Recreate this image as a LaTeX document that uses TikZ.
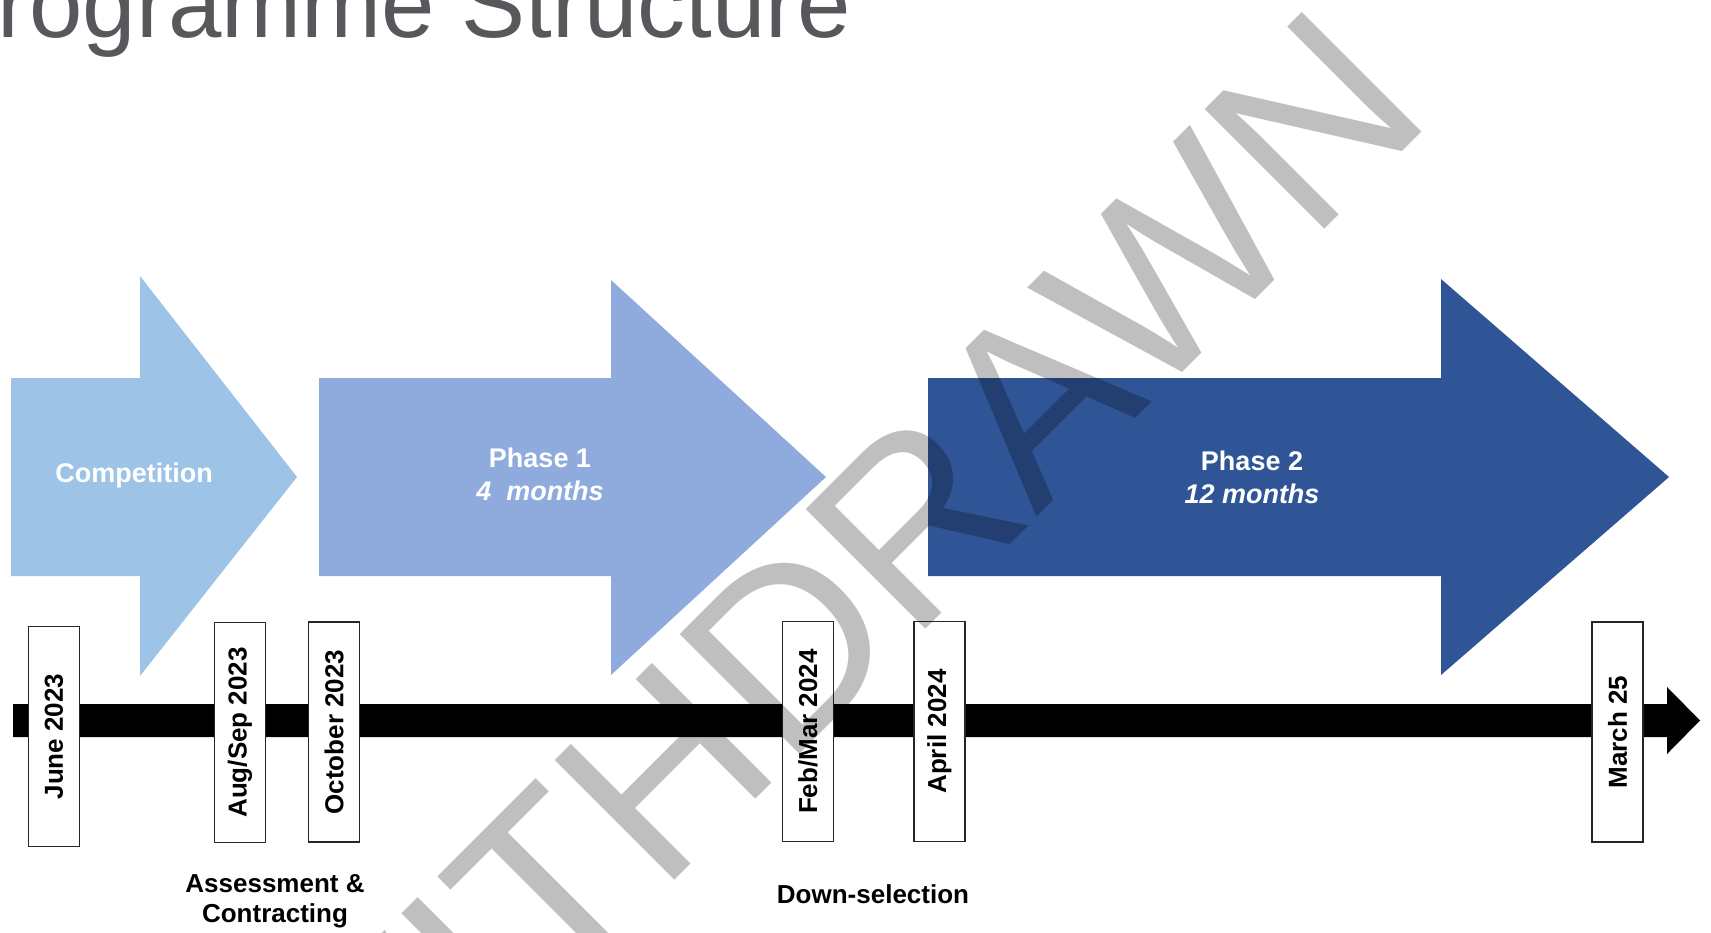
\documentclass[tikz,border=0pt]{standalone}
\usepackage{fontspec}
\setmainfont{Liberation Sans}
\usepackage{xcolor}
\usepackage{tikz}
\usetikzlibrary{positioning}

\definecolor{compblue}{HTML}{9DC3E6}
\definecolor{phaseone}{HTML}{8FAADC}
\definecolor{phasetwo}{HTML}{2F5597}
\definecolor{titlegrey}{RGB}{88,88,92}

\begin{document}
\begin{tikzpicture}[
  x=0.5pt, y=-0.5pt,
  note/.style={font=\fontsize{13}{15}\selectfont\bfseries, align=center,
    inner sep=0pt},
  phase/.style={text=white, font=\fontsize{13.5}{16.5}\selectfont\bfseries,
    align=center, inner sep=0pt},
  datebox/.style={draw=black!85, line width=0.9pt, fill=white, rotate=90,
    minimum width=110pt, minimum height=25.5pt, inner sep=0pt,
    font=\fontsize{13}{14}\selectfont\bfseries},
  tline/.style={fill=black},
]
\useasboundingbox (0,0) rectangle (1711,932);
\clip (0,0) rectangle (1711,932);

% title, cut by the page edge
\node[anchor=base west, inner sep=0pt, text=titlegrey,
  font=\fontsize{48}{50}\selectfont] (title) at (-67,37) {Programme Structure};

% phase arrows
\fill[compblue] (11,378) -- (140,378) -- (140,276) -- (297,477)
  -- (140,676) -- (140,576) -- (11,576) -- cycle;
\fill[phaseone] (319,378) -- (611,378) -- (611,280) -- (826,477)
  -- (611,675) -- (611,576) -- (319,576) -- cycle;
\fill[phasetwo] (928,378) -- (1441,378) -- (1441,279) -- (1669,477)
  -- (1441,675) -- (1441,576) -- (928,576) -- cycle;
\node[phase] (comp) at (134,476) {Competition};
\node[phase] (ph1) at (540,474) {Phase 1\\\textit{4~~months}};
\node[phase] (ph2) at (1252,477) {Phase 2\\\textit{12 months}};

% time line
\fill[tline] (13,704) -- (1667,704) -- (1667,687) -- (1700,720.5)
  -- (1667,754) -- (1667,737) -- (13,737) -- cycle;

% dates
\node[datebox] (jun) at (54,736.5) {June 2023};
\node[datebox] (aug) at (240,732.5) {Aug/Sep 2023};
\node[datebox] (oct) at (334,732) {October 2023};
\node[datebox] (feb) at (808,731.5) {Feb/Mar 2024};
\node[datebox] (apr) at (939.5,731.5) {April 2024};
\node[datebox] (mar) at (1617.5,732) {March 25};

\node[note] (assess) at (275,901) {Assessment \&\\Contracting};
\node[note] (down) at (873,894) {Down-selection};

% watermark
\node[rotate=45, opacity=0.25, text=black, inner sep=0pt,
  font=\fontsize{123}{123}\selectfont] (stamp) at (829,606) {WITHDRAWN};
\end{tikzpicture}
\end{document}
